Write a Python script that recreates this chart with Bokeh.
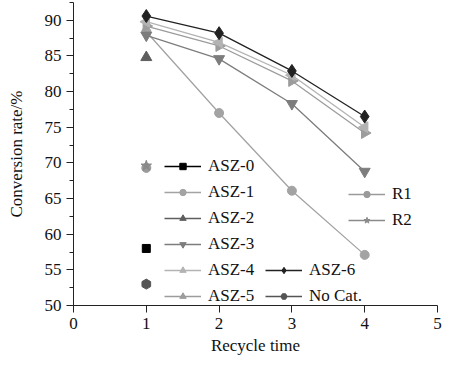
import math
from bokeh.plotting import figure
from bokeh.models import Legend, LegendItem, SingleIntervalTicker, Range1d
from bokeh.embed import file_html
from bokeh.resources import INLINE

# ---- data ----
cycles = [1, 2, 3, 4]
asz0 = [58.0]
asz1 = [88.4, 77.0, 66.1, 57.1]
asz2 = [84.8]
asz3 = [87.9, 84.6, 78.3, 68.8]
asz4 = [89.8, 86.9, 82.3, 75.0]
asz5 = [89.2, 86.4, 81.5, 74.2]
asz6 = [90.6, 88.2, 82.9, 76.5]
r1 = [69.3]
r2 = [69.6]
nocat = [53.0]
single_x = [1]

FONT = "Liberation Serif"
FS = "17px"

p = figure(width=442, height=360, output_backend="svg", toolbar_location=None,
           x_range=Range1d(0, 5), y_range=Range1d(50, 92.5),
           min_border_left=73, min_border_right=5, min_border_top=2,
           min_border_bottom=55)
p.outline_line_color = None
p.xgrid.visible = False
p.ygrid.visible = False
p.background_fill_color = "white"

def series(xs, ys, color, marker, size, angle=0.0):
    ln = p.line(xs, ys, line_color=color, line_width=1.3)
    sc = p.scatter(xs, ys, marker=marker, size=size, fill_color=color,
                   line_color=color, angle=angle)
    return [ln, sc]

r_asz1 = series(cycles, asz1, "#a3a3a3", "circle", 9)
r_asz3 = series(cycles, asz3, "#7d7d7d", "inverted_triangle", 11)
r_asz5 = series(cycles, asz5, "#9c9c9c", "triangle", 11, angle=-math.pi / 2)
r_asz4 = series(cycles, asz4, "#b3b3b3", "triangle", 11, angle=math.pi / 2)
r_asz6 = series(cycles, asz6, "#222222", "diamond", 13)
r_asz0 = series(single_x, asz0, "#000000", "square", 8)
r_asz2 = series(single_x, asz2, "#5e5e5e", "triangle", 11)
r_r1 = series(single_x, r1, "#9a9a9a", "circle", 9)
r_r2 = series(single_x, r2, "#8a8a8a", "star", 11)
r_nocat = series(single_x, nocat, "#555555", "hex", 10, angle=math.pi / 2)

# axes
xa = p.xaxis[0]
xa.ticker = SingleIntervalTicker(interval=1, num_minor_ticks=0)
ya = p.yaxis[0]
ya.ticker = SingleIntervalTicker(interval=5, num_minor_ticks=2)
for ax in (xa, ya):
    ax.axis_line_color = "#222222"
    ax.major_tick_line_color = "#222222"
    ax.minor_tick_line_color = "#222222"
    ax.major_tick_out = 7
    ax.major_tick_in = 0
    ax.minor_tick_out = 4
    ax.minor_tick_in = 0
    ax.major_label_text_font = FONT
    ax.major_label_text_font_size = FS
    ax.major_label_text_color = "#111111"
    ax.axis_label_text_font = FONT
    ax.axis_label_text_font_size = FS
    ax.axis_label_text_font_style = "normal"
    ax.axis_label_text_color = "#111111"
xa.minor_tick_line_color = None
xa.axis_label = "Recycle time"
ya.axis_label = "Conversion rate/%"
xa.major_label_standoff = 5
ya.major_label_standoff = 5
xa.axis_label_standoff = 4
ya.axis_label_standoff = 16

def make_legend(items, loc):
    lg = Legend(items=items, location=loc, orientation="vertical",
                background_fill_alpha=0, border_line_color=None,
                padding=0, margin=0, spacing=6,
                glyph_width=37, glyph_height=16, label_height=16,
                label_standoff=7, label_text_font=FONT,
                label_text_font_size=FS, label_text_color="#111111")
    p.add_layout(lg, "center")
    return lg

make_legend([
    LegendItem(label="ASZ-0", renderers=r_asz0),
    LegendItem(label="ASZ-1", renderers=r_asz1),
    LegendItem(label="ASZ-2", renderers=r_asz2),
    LegendItem(label="ASZ-3", renderers=r_asz3),
    LegendItem(label="ASZ-4", renderers=r_asz4),
    LegendItem(label="ASZ-5", renderers=r_asz5),
], (91, -1))
make_legend([
    LegendItem(label="ASZ-6", renderers=r_asz6),
    LegendItem(label="No Cat.", renderers=r_nocat),
], (192, -1))
make_legend([
    LegendItem(label="R1", renderers=r_r1),
    LegendItem(label="R2", renderers=r_r2),
], (275, 75))

open("out.html", "w").write(file_html(p, INLINE))
